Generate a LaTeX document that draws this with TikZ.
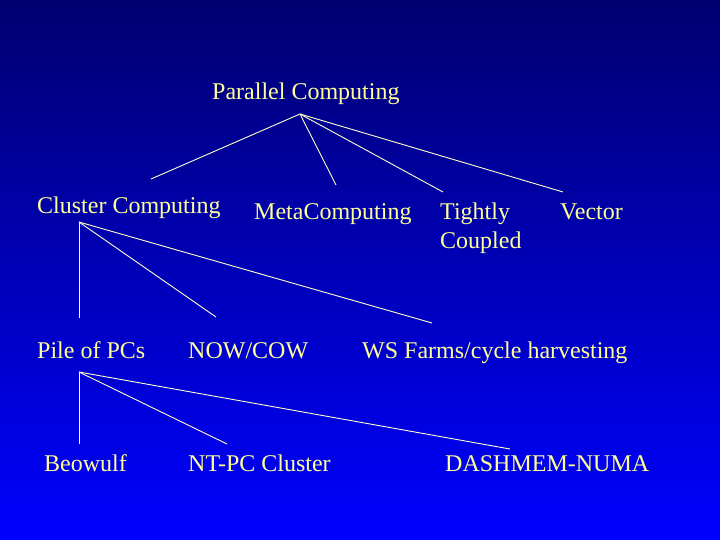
\documentclass[tikz,border=0pt]{standalone}
\usepackage{fontspec}
\setmainfont{Liberation Serif}
\definecolor{bgtop}{RGB}{0,0,112}
\definecolor{bgbot}{RGB}{0,0,255}
\definecolor{txt}{RGB}{255,255,153}
\definecolor{ln}{RGB}{255,255,200}
\tikzset{
  lbl/.style={anchor=base west, inner sep=0pt, text=txt, font=\fontsize{24}{28}\selectfont},
  conn/.style={draw=ln, line width=0.9pt}
}
\begin{document}
\begin{tikzpicture}[x=1pt,y=-1pt]
\shade[top color=bgtop, bottom color=bgbot] (0,0) rectangle (720,540);
\useasboundingbox (0,0) rectangle (720,540);
% labels
\node[lbl] (par) at (212,100) {Parallel Computing};
\node[lbl] (clu) at (37,214) {Cluster Computing};
\node[lbl] (meta) at (254,219) {MetaComputing};
\node[lbl] (tig) at (440,219) {Tightly};
\node[lbl] (cou) at (440,248) {Coupled};
\node[lbl] (vec) at (560,219) {Vector};
\node[lbl] (pile) at (37,358) {Pile of PCs};
\node[lbl] (now) at (188,358) {NOW/COW};
\node[lbl] (ws) at (362,358) {WS Farms/cycle harvesting};
\node[lbl] (beo) at (44,471) {Beowulf};
\node[lbl] (nt) at (188,471) {NT-PC Cluster};
\node[lbl] (dash) at (445,471) {DASHMEM-NUMA};
% connector points
\coordinate (pA) at (300,114);
\coordinate (pB1) at (151,179);
\coordinate (pB2) at (336,185);
\coordinate (pB3) at (443,192);
\coordinate (pB4) at (563,192);
\coordinate (cA) at (79,222);
\coordinate (cB1) at (79,318);
\coordinate (cB2) at (216,317);
\coordinate (cB3) at (432,323);
\coordinate (kA) at (79,372);
\coordinate (kB1) at (79,444);
\coordinate (kB2) at (227,444);
\coordinate (kB3) at (510,449);
\draw[conn] (pA) -- (pB1);
\draw[conn] (pA) -- (pB2);
\draw[conn] (pA) -- (pB3);
\draw[conn] (pA) -- (pB4);
\draw[conn] (cA) -- (cB1);
\draw[conn] (cA) -- (cB2);
\draw[conn] (cA) -- (cB3);
\draw[conn] (kA) -- (kB1);
\draw[conn] (kA) -- (kB2);
\draw[conn] (kA) -- (kB3);
\end{tikzpicture}
\end{document}
